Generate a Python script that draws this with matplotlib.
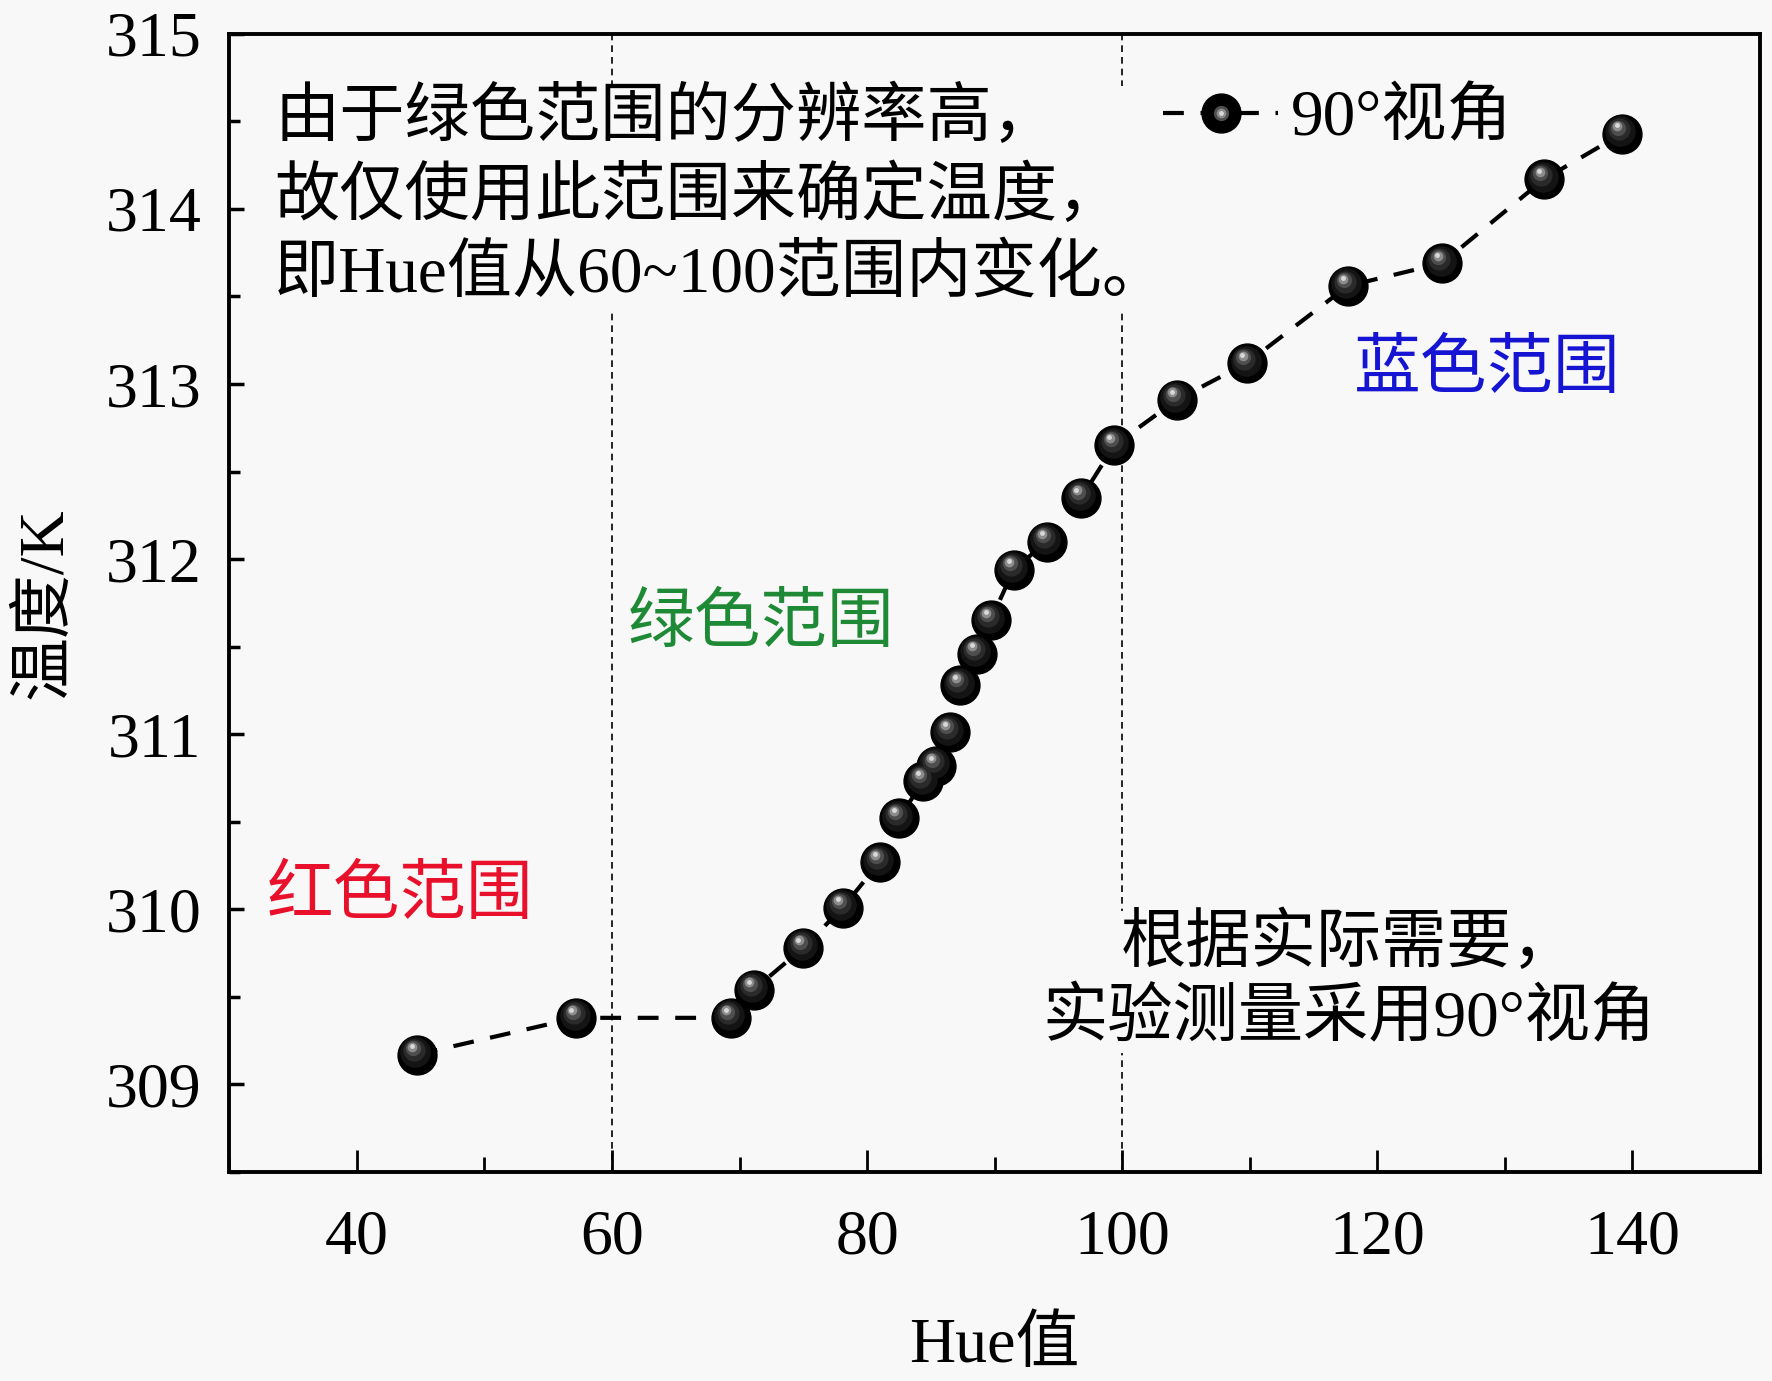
import numpy as np
import matplotlib
matplotlib.use("Agg")
import matplotlib.pyplot as plt
from matplotlib.lines import Line2D
from matplotlib.legend_handler import HandlerTuple
from matplotlib.transforms import offset_copy

# data
hue = [44.7, 57.2, 69.3, 71.1, 75.0, 78.1, 81.0, 82.5, 84.4, 85.4, 86.5, 87.3,
       88.6, 89.7, 91.5, 94.1, 96.8, 99.4, 104.3, 109.8, 117.7, 125.1, 133.1, 139.2]
temp = [309.17, 309.38, 309.38, 309.54, 309.78, 310.01, 310.27, 310.52, 310.73,
        310.82, 311.01, 311.28, 311.46, 311.65, 311.94, 312.10, 312.35, 312.65,
        312.91, 313.12, 313.56, 313.69, 314.17, 314.43]
bounds = [60, 100]
xticks = [40, 60, 80, 100, 120, 140]
yticks = [309, 310, 311, 312, 313, 314, 315]

fonts = ['Liberation Serif', 'Noto Sans CJK SC']
plt.rcParams['font.family'] = fonts
plt.rcParams['font.size'] = 46
bg = '#f8f8f8'

fig = plt.figure(figsize=(17.72, 13.81), dpi=100, facecolor=bg)
ax = fig.add_axes([0.1295, 0.1514, 0.8635, 0.8241], facecolor=bg)

# region boundaries
for b in bounds:
    ax.axvline(b, color='black', lw=1.2, ls=(0, (4, 3)), zorder=1)

# data line with sphere-like markers
ms = 28
ax.plot(hue, temp, color='black', lw=3, ls=(0, (5, 4)), zorder=3,
        marker='o', ms=ms, mfc='black', mec='black')
layers = [(22, '#141414', 1.8), (16, '#2a2a2a', 3.2), (11, '#4e4e4e', 4.4),
          (7, '#8c8c8c', 5.3), (3.5, '#d8d8d8', 5.9)]
for size, col, off in layers:
    tr = offset_copy(ax.transData, fig=fig, x=-off * 0.6, y=off, units='points')
    ax.plot(hue, temp, ls='none', marker='o', ms=size, mfc=col, mec='none',
            transform=tr, zorder=4)

# legend
h0 = Line2D([], [], color='black', lw=3, ls=(0, (5, 4)), marker='o', ms=ms,
            mfc='black', mec='black')
hl = [Line2D([], [], ls='none', marker='o', ms=s, mfc=c, mec='none') for s, c, o in layers[2:]]
ax.legend([tuple([h0] + hl)], ['90°视角'], handler_map={tuple: HandlerTuple(ndivide=1)},
          loc='upper left', bbox_to_anchor=(0.572, 1.003), frameon=False,
          handlelength=1.75, handletextpad=0.2, numpoints=1, fontsize=47)

ax.set_xlim(30, 150)
ax.set_ylim(308.5, 315)
ax.set_xticks(xticks)
ax.set_xticks(np.arange(30, 151, 10), minor=True)
ax.set_yticks(yticks)
ax.set_yticks(np.arange(308.5, 315.01, 0.5), minor=True)
ax.tick_params(axis='x', which='major', direction='in', length=16, width=2, pad=27, labelsize=46)
ax.tick_params(axis='x', which='minor', direction='in', length=11, width=2)
ax.tick_params(axis='y', which='major', direction='in', length=11, width=2.5, pad=20, labelsize=46)
ax.tick_params(axis='y', which='minor', direction='in', length=8, width=2.5)
for s in ax.spines.values():
    s.set_linewidth(2.8)

ax.set_xlabel('Hue值', fontsize=46, labelpad=36)
ax.set_ylabel('温度/K', fontsize=46, labelpad=22)

# annotations
ax.text(33.5, 314.69, '由于绿色范围的分辨率高，\n故仅使用此范围来确定温度，\n即Hue值从60~100范围内变化。',
        ha='left', va='top', fontsize=47, linespacing=1.34, zorder=2,
        bbox=dict(facecolor=bg, edgecolor='none', pad=2))
ax.text(117.8, 309.585, '根据实际需要，\n实验测量采用90°视角', ha='center', va='center',
        fontsize=47, linespacing=1.28, zorder=2,
        bbox=dict(facecolor=bg, edgecolor='none', pad=2))
ax.text(71.7, 311.62, '绿色范围', color='#1f8a36', ha='center', va='center', fontsize=48)
ax.text(43.4, 310.07, '红色范围', color='#e8102a', ha='center', va='center', fontsize=48)
ax.text(128.6, 313.07, '蓝色范围', color='#1414d2', ha='center', va='center', fontsize=48)

plt.savefig('out.png', dpi=100, facecolor=bg)
